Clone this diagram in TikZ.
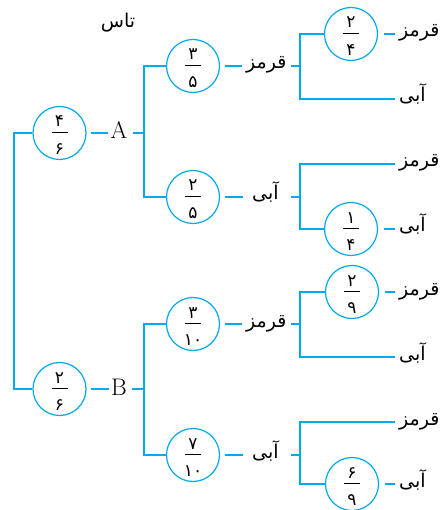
\documentclass[tikz,border=0pt]{standalone}
\usepackage{fontspec}
\usetikzlibrary{calc}
\newfontfamily\arabicfont[Script=Arabic]{DejaVu Sans}
\TeXXeTstate=1
\definecolor{cyanline}{RGB}{0,170,236}
\newcommand{\pnode}[5]{%
  \node[prob] (#1) at (#2,#3) {};
  \node[digit,anchor=base] (#1n) at ($(#1)+(0,-6)$) {\beginR#4\endR};
  \node[digit,anchor=base] (#1d) at ($(#1)+(0,21.5)$) {\beginR#5\endR};
  \draw[fracbar] ($(#1)+(-8,-1)$) -- ($(#1)+(8,-1)$);}
\begin{document}
\begin{tikzpicture}[x=1pt,y=-1pt,
  conn/.style={draw=cyanline,line width=1.9pt},
  prob/.style={circle,draw=cyanline,line width=1.2pt,minimum size=53pt,inner sep=0pt},
  digit/.style={font=\arabicfont\fontsize{17}{18}\selectfont,inner sep=0pt},
  fracbar/.style={draw=black,line width=0.9pt},
  word/.style={font=\arabicfont\fontsize{19}{20}\selectfont,inner sep=0pt},
  lat/.style={font=\fontsize{24}{26}\selectfont,inner sep=0pt}]
\useasboundingbox (0,0) rectangle (442,510);
% title
\node[word,anchor=base] (title) at (118,28) {\beginR تاس\endR};
% level 1
\pnode{c46}{59.5}{133}{۴}{۶}
\pnode{c26}{59.5}{389}{۲}{۶}
\coordinate (root) at (14,133);
\draw[conn] (c46.west) -- (root) |- (c26.west);
\node[lat,anchor=base] (A) at (119,139) {A};
\node[lat,anchor=base] (B) at (119,395) {B};
\coordinate (jA) at (144,133);
\coordinate (jB) at (144,389);
\draw[conn,shorten <=4pt,shorten >=2pt] (c46.east) -- (c46.east -| A.west);
\draw[conn,shorten <=4pt,shorten >=2pt] (c26.east) -- (c26.east -| B.west);
\draw[conn,shorten <=5pt] (A.east |- jA) -- (jA);
\draw[conn,shorten <=5pt] (B.east |- jB) -- (jB);
% level 2
\pnode{c35}{193}{66}{۳}{۵}
\pnode{c25}{193}{197}{۲}{۵}
\pnode{c310}{193}{324}{۳}{۱۰}
\pnode{c710}{193}{455}{۷}{۱۰}
\draw[conn] (c35.west) -| (jA) |- (c25.west);
\draw[conn] (c310.west) -| (jB) |- (c710.west);
\node[word,anchor=base west] (r1) at (246,69) {\beginR قرمز\endR};
\node[word,anchor=base west] (b1) at (252,200) {\beginR آبی\endR};
\node[word,anchor=base west] (r2) at (246,327) {\beginR قرمز\endR};
\node[word,anchor=base west] (b2) at (252,458) {\beginR آبی\endR};
\coordinate (j1) at (300,66);
\coordinate (j2) at (300,197);
\coordinate (j3) at (300,324);
\coordinate (j4) at (300,455);
\draw[conn,shorten <=5pt,shorten >=4pt] (c35.east) -- (c35.east -| r1.west);
\draw[conn,shorten <=4pt] (r1.east |- j1) -- (j1);
\draw[conn,shorten <=5pt,shorten >=9pt] (c25.east) -- (c25.east -| b1.west);
\draw[conn,shorten <=12pt] (b1.east |- j2) -- (j2);
\draw[conn,shorten <=5pt,shorten >=4pt] (c310.east) -- (c310.east -| r2.west);
\draw[conn,shorten <=4pt] (r2.east |- j3) -- (j3);
\draw[conn,shorten <=5pt,shorten >=9pt] (c710.east) -- (c710.east -| b2.west);
\draw[conn,shorten <=12pt] (b2.east |- j4) -- (j4);
% level 3
\pnode{c24}{351}{34}{۲}{۴}
\pnode{c14}{351}{229}{۱}{۴}
\pnode{c29}{352}{292}{۲}{۹}
\pnode{c69}{352}{484}{۶}{۹}
\node[word,anchor=base west] (r11) at (399,37) {\beginR قرمز\endR};
\node[word,anchor=base west] (b11) at (399,102) {\beginR آبی\endR};
\node[word,anchor=base west] (r12) at (399,167) {\beginR قرمز\endR};
\node[word,anchor=base west] (b12) at (399,232) {\beginR آبی\endR};
\node[word,anchor=base west] (r21) at (399,295) {\beginR قرمز\endR};
\node[word,anchor=base west] (b21) at (399,360) {\beginR آبی\endR};
\node[word,anchor=base west] (r22) at (399,425) {\beginR قرمز\endR};
\node[word,anchor=base west] (b22) at (399,487) {\beginR آبی\endR};
% branches to leaves
\draw[conn] (c24.west) -| (j1);
\draw[conn,shorten >=4pt] (j1) |- (b11.west |- 0,99);
\draw[conn,shorten >=4pt] (j2) |- (r12.west |- 0,164);
\draw[conn] (j2) |- (c14.west);
\draw[conn] (c29.west) -| (j3);
\draw[conn,shorten >=4pt] (j3) |- (b21.west |- 0,357);
\draw[conn,shorten >=4pt] (j4) |- (r22.west |- 0,422);
\draw[conn] (j4) |- (c69.west);
\draw[conn,shorten <=6pt,shorten >=4pt] (c24.east) -- (c24.east -| r11.west);
\draw[conn,shorten <=6pt,shorten >=4pt] (c14.east) -- (c14.east -| b12.west);
\draw[conn,shorten <=6pt,shorten >=4pt] (c29.east) -- (c29.east -| r21.west);
\draw[conn,shorten <=6pt,shorten >=4pt] (c69.east) -- (c69.east -| b22.west);
\end{tikzpicture}
\end{document}
